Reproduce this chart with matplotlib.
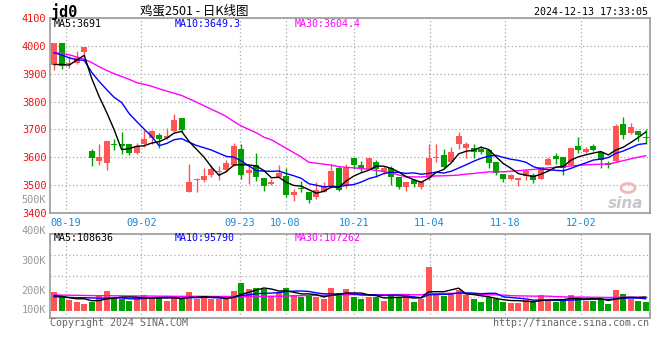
import matplotlib
matplotlib.use("Agg")
import matplotlib.pyplot as plt
from matplotlib.patches import Ellipse
import numpy as np
import pandas as pd

# ---------------- data ----------------
opens = [3933, 4012, 3935, 3940, 3978, 3621, 3586, 3580, 3647, 3649,
         3649, 3617, 3646, 3670, 3681, 3669, 3694, 3742, 3477, 3518,
         3517, 3535, 3548, 3555, 3572, 3630, 3544, 3572, 3525, 3504,
         3531, 3533, 3464, 3490, 3476, 3456, 3476, 3492, 3563, 3498,
         3596, 3571, 3557, 3583, 3551, 3560, 3530, 3494, 3518, 3495,
         3527, 3596, 3607, 3583, 3646, 3634, 3632, 3629, 3626, 3583,
         3539, 3521, 3519, 3533, 3537, 3521, 3571, 3605, 3601, 3571,
         3640, 3620, 3640, 3620, 3579, 3587, 3721, 3688, 3696, 3672]
highs = [4012, 4012, 3965, 3980, 3996, 3630, 3649, 3660, 3665, 3689,
         3649, 3650, 3697, 3699, 3687, 3705, 3754, 3742, 3577, 3527,
         3562, 3574, 3570, 3591, 3652, 3648, 3567, 3615, 3525, 3521,
         3571, 3560, 3486, 3515, 3476, 3512, 3510, 3575, 3569, 3575,
         3596, 3587, 3596, 3590, 3569, 3569, 3530, 3512, 3518, 3514,
         3646, 3646, 3629, 3637, 3690, 3655, 3646, 3640, 3631, 3583,
         3539, 3539, 3525, 3557, 3545, 3565, 3601, 3617, 3601, 3632,
         3673, 3638, 3646, 3620, 3587, 3718, 3745, 3724, 3696, 3700]
lows = [3915, 3917, 3920, 3935, 3962, 3568, 3574, 3554, 3627, 3613,
        3607, 3613, 3637, 3648, 3633, 3666, 3690, 3690, 3477, 3477,
        3510, 3528, 3520, 3547, 3570, 3522, 3503, 3514, 3480, 3500,
        3530, 3456, 3444, 3474, 3435, 3450, 3474, 3488, 3480, 3488,
        3557, 3548, 3557, 3530, 3539, 3500, 3486, 3480, 3494, 3486,
        3520, 3583, 3563, 3583, 3631, 3599, 3599, 3611, 3563, 3537,
        3512, 3519, 3498, 3519, 3507, 3521, 3571, 3575, 3537, 3571,
        3617, 3617, 3623, 3563, 3560, 3583, 3664, 3682, 3658, 3646]
closes = [4012, 3927, 3940, 3955, 3996, 3598, 3600, 3657, 3644, 3639,
          3615, 3642, 3666, 3693, 3664, 3675, 3735, 3699, 3513, 3522,
          3534, 3557, 3551, 3580, 3640, 3537, 3555, 3531, 3498, 3512,
          3545, 3465, 3474, 3486, 3448, 3483, 3498, 3551, 3483, 3560,
          3571, 3557, 3596, 3557, 3560, 3530, 3494, 3512, 3504, 3512,
          3599, 3601, 3565, 3620, 3676, 3646, 3620, 3620, 3579, 3545,
          3521, 3537, 3525, 3551, 3519, 3565, 3593, 3595, 3563, 3632,
          3626, 3629, 3626, 3590, 3571, 3714, 3680, 3710, 3680, 3669]
volumes = [152, 118, 86, 70, 54, 72, 122, 158, 96, 96,
           78, 112, 122, 98, 98, 80, 118, 90, 150, 96,
           106, 96, 90, 90, 158, 224, 174, 182, 170, 118,
           144, 182, 122, 106, 118, 112, 96, 182, 144, 174,
           112, 94, 112, 112, 80, 122, 112, 122, 70, 96,
           352, 122, 118, 144, 166, 122, 96, 70, 106, 94,
           72, 64, 64, 86, 72, 122, 86, 72, 90, 122,
           106, 80, 80, 90, 54, 166, 134, 94, 80, 72]  # thousands

# moving-average values read from the chart where the window reaches back
# before the first visible day
ma5_head = [3933, 3933, 3931, 3949]
ma10_head = [3975, 3967, 3957, 3950, 3948, 3905, 3872, 3843, 3815]
ma30_head = [3976, 3973, 3968, 3960, 3952, 3940, 3925, 3912, 3900, 3890,
             3880, 3868, 3862, 3855, 3846, 3838, 3830, 3822, 3810, 3798,
             3785, 3772, 3760, 3746, 3728, 3712, 3700, 3688, 3672]
vma5_head = [120, 115, 104, 95]
vma10_head = [112, 110, 106, 104, 104, 102, 100, 100, 101]
vma30_head = [126, 125, 124, 123, 122, 121, 120, 120, 119, 119,
              118, 118, 117, 117, 116, 116, 115, 115, 115, 115,
              115, 114, 114, 114, 114, 115, 115, 115, 115]

tick_idx = [2, 12, 25, 31, 40, 50, 60, 70]
tick_labels = ["08-19", "09-02", "09-23", "10-08", "10-21", "11-04", "11-18", "12-02"]
price_ticks = [4100, 4000, 3900, 3800, 3700, 3600, 3500, 3400]
vol_labels = ["500K", "400K", "300K", "200K", "100K"]

title = "鸡蛋2501 - 日K线图"
symbol = "jd0"
stamp = "2024-12-13 17:33:05"
ma_price_text = ["MA5:3691", "MA10:3649.3", "MA30:3604.4"]
ma_vol_text = ["MA5:108636", "MA10:95790", "MA30:107262"]

# ---------------- helpers ----------------
RED = "#ff5555"
GREEN = "#00a000"
GRID = "#aaaaaa"
SPINE = "#9a9a9a"
W, H = 660, 360
MONO = ["DejaVu Sans Mono"]


def moving(values, n, head):
    s = pd.Series(values, dtype=float).rolling(n).mean().to_numpy()
    s[:len(head)] = head
    return s


def px_axes(fig, l, t, r, b):
    return fig.add_axes([l / W, 1 - b / H, (r - l) / W, (b - t) / H])


def ftext(fig, x, y, s, **kw):
    kw.setdefault("va", "center")
    kw.setdefault("family", MONO)
    return fig.text(x / W, 1 - y / H, s, **kw)


o = np.array(opens, float)
h = np.array(highs, float)
lo = np.array(lows, float)
c = np.array(closes, float)
v = np.array(volumes, float) * 1000
n = len(c)
x = np.arange(n)
up = c >= o
cols = np.where(up, RED, GREEN)

ma5 = moving(c, 5, ma5_head)
ma10 = moving(c, 10, ma10_head)
ma30 = moving(c, 30, ma30_head)
vma5 = moving(v, 5, np.array(vma5_head) * 1000)
vma10 = moving(v, 10, np.array(vma10_head) * 1000)
vma30 = moving(v, 30, np.array(vma30_head) * 1000)

fig = plt.figure(figsize=(6.6, 3.6), dpi=100)
fig.patch.set_facecolor("white")

# ---------------- price panel ----------------
ax = px_axes(fig, 50.5, 18, 649.5, 213)
ax.set_xlim(-0.5, n - 0.5)
ax.set_ylim(3400, 4097)

grid_x = [i * n / (n - 1) - 0.5 for i in tick_idx]
ax.set_xticks(grid_x)
ax.set_xticklabels(tick_labels, family=MONO, fontsize=7.4, color="#1a8ad4")
ax.set_yticks(price_ticks)
ax.set_yticklabels([str(t) for t in price_ticks], family=MONO, fontsize=7.4,
                   color="#ee1111")
ax.tick_params(axis="both", length=0)
ax.tick_params(axis="x", pad=3.5)
ax.tick_params(axis="y", pad=3)
ax.grid(True, color=GRID, linestyle=(0, (1, 2)), linewidth=0.9)
ax.set_axisbelow(True)

body_bottom = np.minimum(o, c)
body_h = np.maximum(np.abs(c - o), 3)
ax.vlines(x, lo, h, colors=cols, linewidth=1.0, zorder=2)
ax.bar(x, body_h, bottom=body_bottom, width=0.8, color=cols, linewidth=0, zorder=3)
ax.plot(x, ma30, color="#ff00ff", lw=1.0, zorder=4)
ax.plot(x, ma10, color="#0000ff", lw=1.0, zorder=4)
ax.plot(x, ma5, color="black", lw=1.0, zorder=4)

for sp in ax.spines.values():
    sp.set_color(SPINE)
    sp.set_linewidth(1.2)

# ---------------- volume panel ----------------
ax2 = px_axes(fig, 50.5, 234, 649.5, 318)
ax2.set_xlim(-0.5, n - 0.5)
vlo, vhi = -58400, 613600
ax2.set_ylim(vlo, vhi)
ax2.set_xticks(grid_x)
ax2.set_xticklabels([])
ax2.set_yticks([vlo + f * (vhi - vlo) for f in (0.25, 0.5, 0.75)])
ax2.set_yticklabels([])
ax2.tick_params(axis="both", length=0)
ax2.grid(True, color=GRID, linestyle=(0, (1, 2)), linewidth=0.9)
ax2.set_axisbelow(True)
ax2.bar(x, v, width=0.8, color=cols, linewidth=0, zorder=2)
ax2.plot(x, vma30, color="#ff00ff", lw=1.0, zorder=3)
ax2.plot(x, vma10, color="#0000ff", lw=1.0, zorder=3)
ax2.plot(x, vma5, color="black", lw=1.0, zorder=3)
for sp in ax2.spines.values():
    sp.set_color(SPINE)
    sp.set_linewidth(1.2)

# ---------------- texts ----------------
ftext(fig, 51, 12, symbol, fontsize=11, weight="bold", color="black")
ftext(fig, 140, 11, title, fontsize=9, color="black",
      family=["Noto Sans CJK SC", "DejaVu Sans"])
ftext(fig, 648, 12, stamp, fontsize=7.2, color="black", ha="right")

for txt, xp, colr in zip(ma_price_text, (54, 175, 295), ("black", "#0000ff", "#ff00ff")):
    ftext(fig, xp, 24, txt, fontsize=7.2, color=colr)
for txt, xp, colr in zip(ma_vol_text, (54, 175, 295), ("black", "#0000ff", "#ff00ff")):
    ftext(fig, xp, 238, txt, fontsize=7.2, color=colr)

for txt, yp in zip(vol_labels, (200, 231, 261, 290.5, 310)):
    ftext(fig, 46, yp, txt, fontsize=7.4, color="#999999", ha="right")

ftext(fig, 50, 323, "Copyright 2024 SINA.COM", fontsize=7.2, color="#666666")
ftext(fig, 649, 323, "http://finance.sina.com.cn", fontsize=7.2, color="#666666",
      ha="right")

# sina watermark
fig.patches.append(Ellipse((628 / W, 1 - 188 / H), 14 / W, 9 / H,
                           transform=fig.transFigure, facecolor="none",
                           edgecolor="#f2b8b8", linewidth=2.0))
ftext(fig, 626, 203, "sina", fontsize=11, color="#c8c8c8", ha="center",
      weight="bold", style="italic", family=["DejaVu Sans"])

fig.savefig("out.png", dpi=100, facecolor="white")
